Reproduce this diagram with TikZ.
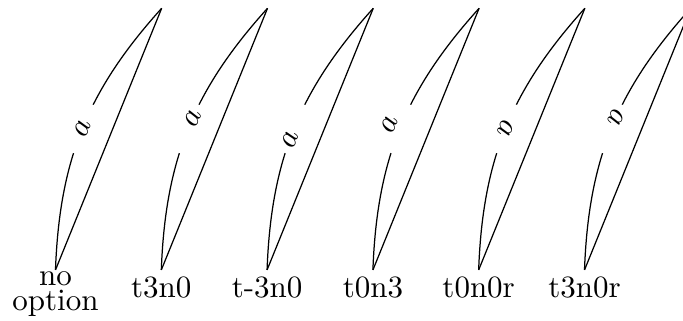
\documentclass[tikz,border=0pt]{standalone}
\usepackage{amsmath,amssymb}
\usetikzlibrary{positioning,calc}
\tikzset{
  iv/.style={bend left=20},
  res/.style={sloped,fill=white,inner sep=0pt,minimum width=16.8pt,minimum height=3pt},
  betu/.style={sloped,inner sep=0pt},
  cimke/.style={anchor=base,align=center,inner sep=0pt},
}
\begin{document}
\begin{tikzpicture}
  \useasboundingbox (0,0) rectangle (7.744,3.639);
  % no option
  \coordinate (al1) at (0.629,0.578);
  \coordinate (fel1) at (1.833,3.545);
  \draw (al1) to[iv] node[pos=0.5,res] (res1) {} (fel1);
  \draw (al1) -- (fel1);
  \path (al1) to[iv] node[pos=0.5,betu] (betu1) {$a$} (fel1);
  \node[cimke] (c1) at (0.629,0.113) {no\\[-3.8pt]option};
  % t3n0
  \coordinate (al2) at (1.829,0.578);
  \coordinate (fel2) at (3.033,3.545);
  \draw (al2) to[iv] node[pos=0.5,res] (res2) {} (fel2);
  \draw (al2) -- (fel2);
  \path (al2) to[iv] node[pos=0.543,betu] (betu2) {$a$} (fel2);
  \node[cimke] (c2) at (1.829,0.265) {t3n0};
  % t-3n0
  \coordinate (al3) at (3.028,0.578);
  \coordinate (fel3) at (4.232,3.545);
  \draw (al3) to[iv] node[pos=0.5,res] (res3) {} (fel3);
  \draw (al3) -- (fel3);
  \path (al3) to[iv] node[pos=0.457,betu] (betu3) {$a$} (fel3);
  \node[cimke] (c3) at (3.028,0.265) {t-3n0};
  % t0n3
  \coordinate (al4) at (4.228,0.578);
  \coordinate (fel4) at (5.432,3.545);
  \draw (al4) to[iv] node[pos=0.5,res] (res4) {} (fel4);
  \draw (al4) -- (fel4);
  \path (al4) to[iv] node[pos=0.5,betu,yshift=3.7pt] (betu4) {$a$} (fel4);
  \node[cimke] (c4) at (4.228,0.265) {t0n3};
  % t0n0r
  \coordinate (al5) at (5.427,0.578);
  \coordinate (fel5) at (6.631,3.545);
  \draw (al5) to[iv] node[pos=0.5,res] (res5) {} (fel5);
  \draw (al5) -- (fel5);
  \path (al5) to[iv] node[pos=0.5,betu,rotate=180] (betu5) {$a$} (fel5);
  \node[cimke] (c5) at (5.427,0.265) {t0n0r};
  % t3n0r
  \coordinate (al6) at (6.627,0.578);
  \coordinate (fel6) at (7.831,3.545);
  \draw (al6) to[iv] node[pos=0.5,res] (res6) {} (fel6);
  \draw (al6) -- (fel6);
  \path (al6) to[iv] node[pos=0.543,betu,rotate=180] (betu6) {$a$} (fel6);
  \node[cimke] (c6) at (6.627,0.265) {t3n0r};
\end{tikzpicture}
\end{document}
